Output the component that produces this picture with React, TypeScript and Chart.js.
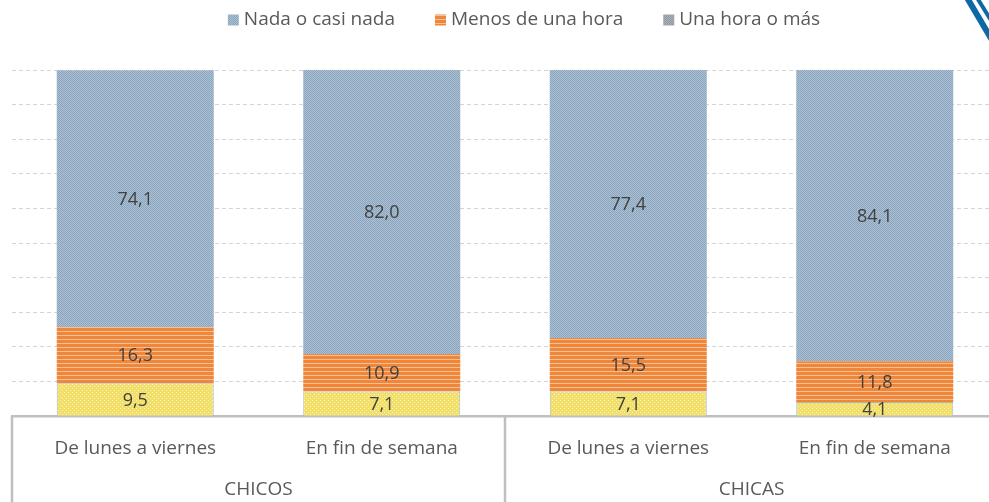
import React, { useEffect, useRef } from 'react';
import { Chart, registerables } from 'chart.js';

Chart.register(...registerables);

// ---------- data ----------
const categories = ['De lunes a viernes', 'En fin de semana', 'De lunes a viernes', 'En fin de semana'];
const groups = ['CHICOS', 'CHICAS'];
const groupSize = 2;
const seriesNames = ['Una hora o más', 'Menos de una hora', 'Nada o casi nada'];
const unaHoraValues = [9.5, 7.1, 7.1, 4.1];
const menosHoraValues = [16.3, 10.9, 15.5, 11.8];
const nadaValues = [74.1, 82.0, 77.4, 84.1];
const yMax = 100;
const yStep = 10;

const FONT = '"Open Sans", "DejaVu Sans", sans-serif';

function makePattern(w: number, h: number, draw: (g: CanvasRenderingContext2D) => void) {
  const c = document.createElement('canvas');
  c.width = w;
  c.height = h;
  const g = c.getContext('2d') as CanvasRenderingContext2D;
  draw(g);
  return g.createPattern(c, 'repeat') as CanvasPattern;
}

function buildFills() {
  const blue = makePattern(2, 2, (g) => {
    g.fillStyle = '#b3bfc8';
    g.fillRect(0, 0, 2, 2);
    g.fillStyle = '#84a7c9';
    g.fillRect(0, 0, 1, 1);
    g.fillRect(1, 1, 1, 1);
  });
  const orange = makePattern(1, 4, (g) => {
    g.fillStyle = '#ef873a';
    g.fillRect(0, 0, 1, 4);
    g.fillStyle = '#f6bf96';
    g.fillRect(0, 3, 1, 1);
  });
  const yellow = makePattern(4, 4, (g) => {
    g.fillStyle = '#f1df68';
    g.fillRect(0, 0, 4, 4);
    g.fillStyle = '#fbf2c0';
    g.fillRect(0, 0, 1, 1);
    g.fillRect(2, 2, 1, 1);
  });
  const gray = makePattern(2, 2, (g) => {
    g.fillStyle = '#a9b0b8';
    g.fillRect(0, 0, 2, 2);
    g.fillStyle = '#8f99a4';
    g.fillRect(0, 0, 1, 1);
    g.fillRect(1, 1, 1, 1);
  });
  return { blue, orange, yellow, gray };
}

const fmt = (v: number) => v.toFixed(1).replace('.', ',');

export default function App() {
  const ref = useRef<HTMLCanvasElement | null>(null);

  useEffect(() => {
    if (!ref.current) return;
    const fills = buildFills();
    const legendFills = [fills.gray, fills.orange, fills.blue];

    const dataLabels = {
      id: 'dataLabels',
      afterDatasetsDraw(chart: any) {
        const ctx = chart.ctx;
        ctx.save();
        ctx.font = `18px ${FONT}`;
        ctx.fillStyle = '#404040';
        ctx.textAlign = 'center';
        ctx.textBaseline = 'middle';
        chart.data.datasets.forEach((ds: any, di: number) => {
          const meta = chart.getDatasetMeta(di);
          meta.data.forEach((el: any, i: number) => {
            const y = (el.y + el.base) / 2;
            ctx.fillText(fmt(ds.data[i]), el.x, y + 1);
          });
        });
        ctx.restore();
      },
    };

    const groupAxis = {
      id: 'groupAxis',
      afterDraw(chart: any) {
        const ctx = chart.ctx;
        const x = chart.scales.x;
        const area = chart.chartArea;
        const step = x.getPixelForValue(1) - x.getPixelForValue(0);
        ctx.save();
        ctx.strokeStyle = '#bfbfbf';
        ctx.lineWidth = 2.5;
        const bounds: number[] = [];
        for (let g = 0; g <= groups.length; g++) {
          const idx = Math.min(g * groupSize, categories.length - 1);
          const px = g * groupSize >= categories.length
            ? x.getPixelForValue(categories.length - 1) + step / 2
            : x.getPixelForValue(idx) - step / 2;
          bounds.push(px);
          ctx.beginPath();
          ctx.moveTo(px, area.bottom);
          ctx.lineTo(px, chart.height);
          ctx.stroke();
        }
        ctx.font = `19px ${FONT}`;
        ctx.fillStyle = '#595959';
        ctx.textAlign = 'center';
        ctx.textBaseline = 'middle';
        groups.forEach((name, g) => {
          ctx.fillText(name, (bounds[g] + bounds[g + 1]) / 2, chart.height - 12);
        });
        // corner decoration
        ctx.strokeStyle = '#0e68a6';
        ctx.lineCap = 'butt';
        ctx.lineWidth = 6;
        ctx.beginPath();
        ctx.moveTo(966, -4);
        ctx.lineTo(992, 40);
        ctx.stroke();
        ctx.lineWidth = 4;
        ctx.beginPath();
        ctx.moveTo(976, -4);
        ctx.lineTo(992, 22);
        ctx.stroke();
        ctx.restore();
      },
    };

    const customLegend = {
      id: 'customLegend',
      afterDraw(chart: any) {
        const ctx = chart.ctx;
        ctx.save();
        ctx.font = `19px ${FONT}`;
        ctx.textBaseline = 'middle';
        ctx.textAlign = 'left';
        const order = [2, 1, 0];
        const box = 11;
        const gapText = 5;
        const gapItems = 40;
        const widths = order.map((i) => box + gapText + ctx.measureText(chart.data.datasets[i].label).width);
        const total = widths.reduce((a: number, b: number) => a + b, 0) + gapItems * (order.length - 1);
        let cx = 524 - total / 2;
        const cy = 20;
        order.forEach((i, k) => {
          ctx.fillStyle = legendFills[i];
          ctx.fillRect(cx, cy - box / 2, box, box);
          ctx.fillStyle = '#595959';
          ctx.fillText(chart.data.datasets[i].label, cx + box + gapText, cy);
          cx += widths[k] + gapItems;
        });
        ctx.restore();
      },
    };

    const chart = new Chart(ref.current, {
      type: 'bar',
      data: {
        labels: categories,
        datasets: [
          {
            label: seriesNames[0],
            data: unaHoraValues,
            backgroundColor: fills.yellow,
            borderColor: '#a9b9c3',
            borderWidth: 1,
          },
          {
            label: seriesNames[1],
            data: menosHoraValues,
            backgroundColor: fills.orange,
            borderWidth: 0,
          },
          {
            label: seriesNames[2],
            data: nadaValues,
            backgroundColor: fills.blue,
            borderWidth: 0,
          },
        ],
      },
      options: {
        responsive: false,
        animation: false,
        layout: { padding: { left: 12, right: 50, top: 70, bottom: 21 } },
        datasets: { bar: { categoryPercentage: 1, barPercentage: 0.637 } },
        plugins: {
          legend: { display: false },
          tooltip: { enabled: false },
        },
        scales: {
          x: {
            stacked: true,
            grid: { display: false, drawTicks: false },
            border: { display: true, color: '#bfbfbf', width: 2.5 },
            ticks: {
              autoSkip: false,
              maxRotation: 0,
              padding: 21,
              color: '#595959',
              font: { family: FONT, size: 19 },
            },
          },
          y: {
            stacked: true,
            min: 0,
            max: yMax,
            ticks: { display: false, stepSize: yStep },
            border: { display: false, dash: [4, 3] },
            grid: { color: '#d4d4d4', lineWidth: 1, drawTicks: false },
          },
        },
      },
      plugins: [dataLabels, groupAxis, customLegend],
    } as any);

    return () => chart.destroy();
  }, []);

  return (
    <div style={{ position: 'absolute', left: 0, top: 0, width: 989, height: 502, overflow: 'hidden', background: '#fff' }}>
      <canvas ref={ref} width={1048} height={502} style={{ width: 1048, height: 502, display: 'block' }} />
    </div>
  );
}
